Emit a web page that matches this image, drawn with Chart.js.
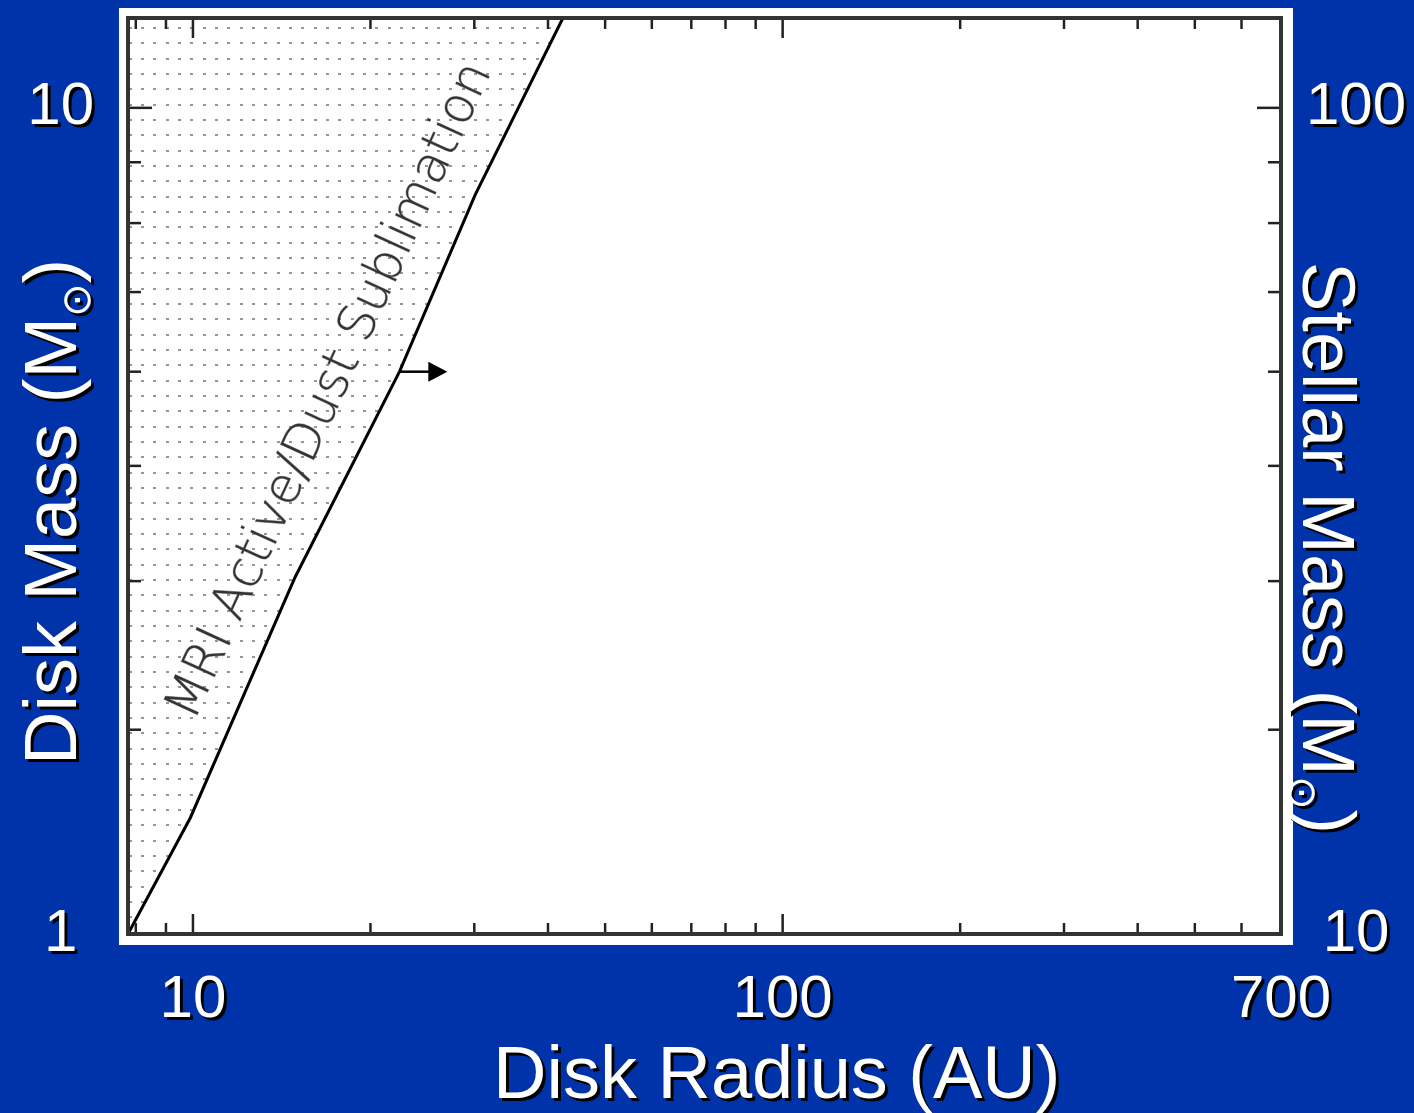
<!DOCTYPE html>
<html><head><meta charset="utf-8">
<script src="https://cdn.jsdelivr.net/npm/chart.js"></script>
<style>html,body{margin:0;padding:0;background:#0033aa;overflow:hidden}canvas{display:block}</style>
</head><body><canvas id="c" width="1414" height="1113"></canvas>
<script>
// ---- data ----
const X_MIN = 7.76, X_MAX = 700;
const Y_MIN = 2.02, Y_MAX = 11.9;
const Y2_MIN = 20.2, Y2_MAX = 119;
const boundaryRadius = [7.76, 9.9, 14.9, 22.4, 30.1, 42.4];
const boundaryMass   = [2.02, 2.53, 4.03, 6.0, 8.45, 11.9];
const xTickValues  = [8, 9, 10, 20, 30, 40, 50, 60, 70, 80, 90, 100, 200, 300, 400, 500, 600, 700];
const xLabelValues = [10, 100, 700];
const xLabelTexts  = ['10', '100', '700'];
const yTickValues  = [2.02, 3, 4, 5, 6, 7, 8, 9, 10];
const yLabelValues = [2.02, 10];
const yLabelTexts  = ['1', '10'];
const y2TickValues  = [20.2, 30, 40, 50, 60, 70, 80, 90, 100];
const y2LabelValues = [20.2, 100];
const y2LabelTexts  = ['10', '100'];
const majorValues = [10, 100];
const arrowFrom = [22.4, 6.0];
const arrowTo   = [27.0, 6.0];
const regionLabel = 'MRI Active/Dust Sublimation';
const xTitle  = ['Disk Radius (AU)'];
const yTitle  = ['Disk Mass (M', '\u2299', ')'];
const y2Title = ['Stellar Mass (M', '\u2299', ')'];

// ---- helpers ----
function labelFor(values, texts) {
  return function (value) {
    const i = values.findIndex(v => Math.abs(v - value) < 1e-6);
    return i >= 0 ? texts[i] : '';
  };
}
function setTicks(values) {
  return function (scale) { scale.ticks = values.map(v => ({ value: v })); };
}
function dotPattern() {
  const c = document.createElement('canvas');
  c.width = 37; c.height = 46;
  const g = c.getContext('2d');
  g.fillStyle = '#969696';
  [6, 19, 31].forEach(x => [13, 28, 43].forEach(y => g.fillRect(x - 1, y - 1, 3, 2)));
  return g.createPattern(c, 'repeat');
}
function drawRich(ctx, parts, x, y, rot) {
  ctx.save();
  ctx.translate(x, y);
  ctx.rotate(rot);
  ctx.textAlign = 'left';
  ctx.textBaseline = 'alphabetic';
  ctx.fillStyle = '#ffffff';
  let cx = 0;
  parts.forEach(p => {
    ctx.font = p.font;
    ctx.fillText(p.text, cx, p.dy || 0);
    cx += ctx.measureText(p.text).width;
  });
  ctx.restore();
}
const MAIN_FONT = '74px "Liberation Sans", Arial, sans-serif';
const SUB_FONT = '40px "DejaVu Sans", sans-serif';
function titleParts(arr) {
  if (arr.length === 1) return [{ text: arr[0], font: MAIN_FONT }];
  return [
    { text: arr[0], font: MAIN_FONT },
    { text: arr[1], font: SUB_FONT, dy: 14 },
    { text: arr[2], font: MAIN_FONT }
  ];
}

const deco = {
  id: 'deco',
  beforeDraw(chart) {
    const { ctx, chartArea: a } = chart;
    ctx.save();
    ctx.fillStyle = '#0033aa';
    ctx.fillRect(0, 0, chart.width, chart.height);
    ctx.fillStyle = '#ffffff';
    ctx.fillRect(a.left - 9, a.top - 10, a.right - a.left + 21, a.bottom - a.top + 21);
    ctx.restore();
    ctx.shadowColor = '#000000';
    ctx.shadowOffsetX = 3; ctx.shadowOffsetY = 3; ctx.shadowBlur = 0;
  },
  beforeDatasetsDraw(chart) {
    const ctx = chart.ctx;
    ctx.shadowColor = 'rgba(0,0,0,0)';
    ctx.shadowOffsetX = 0; ctx.shadowOffsetY = 0;
  },
  afterDatasetsDraw(chart) {
    const { ctx, chartArea: a } = chart;
    const xs = chart.scales.x, ys = chart.scales.y;
    ctx.save();
    // region label along the boundary
    const p1 = [xs.getPixelForValue(boundaryRadius[1]), ys.getPixelForValue(boundaryMass[1])];
    const p4 = [xs.getPixelForValue(boundaryRadius[4]), ys.getPixelForValue(boundaryMass[4])];
    const ang = Math.atan2(p4[1] - p1[1], p4[0] - p1[0]);
    ctx.save();
    ctx.translate(a.left + 66, a.bottom - 212);
    ctx.rotate(ang);
    ctx.font = '200 40px "DejaVu Sans", sans-serif';
    const w = ctx.measureText(regionLabel).width;
    const fs = 40 * 715 / w;
    ctx.font = '200 ' + fs.toFixed(1) + 'px "DejaVu Sans", sans-serif';
    ctx.fillStyle = '#333333';
    ctx.strokeStyle = 'rgba(60,60,60,0.45)';
    ctx.lineWidth = 0.9;
    ctx.textBaseline = 'alphabetic';
    ctx.fillText(regionLabel, 0, 0);
    ctx.strokeText(regionLabel, 0, 0);
    ctx.restore();
    // arrow
    const ax0 = xs.getPixelForValue(arrowFrom[0]), ay0 = ys.getPixelForValue(arrowFrom[1]);
    const ax1 = xs.getPixelForValue(arrowTo[0]), ay1 = ys.getPixelForValue(arrowTo[1]);
    ctx.strokeStyle = '#000'; ctx.fillStyle = '#000'; ctx.lineWidth = 2.5;
    ctx.beginPath(); ctx.moveTo(ax0, ay0); ctx.lineTo(ax1 - 17, ay1); ctx.stroke();
    ctx.beginPath(); ctx.moveTo(ax1, ay1); ctx.lineTo(ax1 - 19, ay1 - 10); ctx.lineTo(ax1 - 19, ay1 + 10); ctx.closePath(); ctx.fill();
    // inward ticks
    ctx.strokeStyle = '#222'; ctx.lineWidth = 2.5;
    const line = (x0, y0, x1, y1) => { ctx.beginPath(); ctx.moveTo(x0, y0); ctx.lineTo(x1, y1); ctx.stroke(); };
    xs.ticks.forEach(t => {
      const v = t.value;
      if (v <= X_MIN * 1.001 || v >= X_MAX * 0.999) return;
      const p = xs.getPixelForValue(v);
      const L = majorValues.includes(v) ? 20 : 11;
      line(p, a.bottom, p, a.bottom - L);
      line(p, a.top, p, a.top + L);
    });
    ys.ticks.forEach(t => {
      const v = t.value;
      if (v <= Y_MIN * 1.001 || v >= Y_MAX * 0.999) return;
      const p = ys.getPixelForValue(v);
      const L = majorValues.includes(v) ? 24 : 13;
      line(a.left, p, a.left + L, p);
      line(a.right, p, a.right - L, p);
    });
    // frame
    ctx.strokeStyle = '#333'; ctx.lineWidth = 4;
    ctx.strokeRect(a.left, a.top, a.right - a.left, a.bottom - a.top);
    ctx.restore();
  },
  afterDraw(chart) {
    const ctx = chart.ctx;
    ctx.save();
    ctx.shadowColor = '#000000';
    ctx.shadowOffsetX = 3; ctx.shadowOffsetY = 3; ctx.shadowBlur = 0;
    drawRich(ctx, titleParts(xTitle), 493, 1098, 0);
    drawRich(ctx, titleParts(yTitle), 76, 765, -Math.PI / 2);
    drawRich(ctx, titleParts(y2Title), 1303, 262, Math.PI / 2);
    ctx.restore();
  }
};

const tickFont = { family: '"Liberation Sans", Arial, sans-serif', size: 60 };
function fitV(width) {
  return s => { s.width = width; s.paddingTop = 0; s.paddingBottom = 0; };
}

new Chart(document.getElementById('c'), {
  type: 'line',
  data: {
    datasets: [{
      data: boundaryRadius.map((r, i) => ({ x: r, y: boundaryMass[i] })),
      borderColor: '#000000',
      borderWidth: 3,
      pointRadius: 0,
      tension: 0,
      fill: 'end',
      backgroundColor: dotPattern(),
      xAxisID: 'x',
      yAxisID: 'y'
    }]
  },
  options: {
    responsive: false,
    animation: false,
    events: [],
    layout: { padding: { top: 18, left: 0, right: 0, bottom: 0 } },
    plugins: { legend: { display: false }, tooltip: { enabled: false } },
    scales: {
      x: {
        type: 'logarithmic', position: 'bottom', min: X_MIN, max: X_MAX,
        afterBuildTicks: setTicks(xTickValues),
        afterFit: s => { s.height = 179; s.paddingLeft = 0; s.paddingRight = 0; },
        grid: { display: false }, border: { display: false },
        ticks: { autoSkip: false, maxRotation: 0, minRotation: 0, padding: 22, color: '#ffffff', font: tickFont,
                 callback: labelFor(xLabelValues, xLabelTexts) }
      },
      y: {
        type: 'logarithmic', position: 'left', min: Y_MIN, max: Y_MAX,
        afterBuildTicks: setTicks(yTickValues),
        afterFit: fitV(128),
        grid: { display: false }, border: { display: false },
        ticks: { autoSkip: false, crossAlign: 'center', padding: 26, color: '#ffffff', font: tickFont,
                 callback: labelFor(yLabelValues, yLabelTexts) }
      },
      y2: {
        type: 'logarithmic', axis: 'y', position: 'right', min: Y2_MIN, max: Y2_MAX,
        afterBuildTicks: setTicks(y2TickValues),
        afterFit: fitV(133),
        grid: { display: false }, border: { display: false },
        ticks: { autoSkip: false, crossAlign: 'center', padding: 17, color: '#ffffff', font: tickFont,
                 callback: labelFor(y2LabelValues, y2LabelTexts) }
      }
    }
  },
  plugins: [deco]
});
</script>
</body></html>
